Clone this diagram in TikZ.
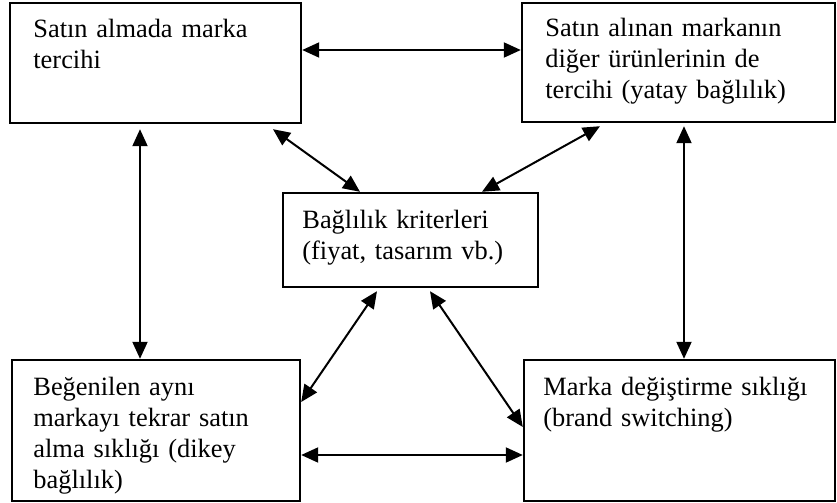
\documentclass[tikz,border=0pt]{standalone}
\usepackage{fontspec}
\setmainfont{Liberation Serif}
\usetikzlibrary{arrows.meta,fit}
\begin{document}
\begin{tikzpicture}[x=0.5pt,y=-0.5pt,
  boxnode/.style={draw=black,line width=1.2pt,inner sep=0pt},
  txt/.style={anchor=base west,inner sep=0pt,text width=160pt,align=left,
              font=\fontsize{13.2}{15.5}\selectfont},
  arr/.style={line width=1pt,{Triangle[length=8.5pt,width=7.5pt]}-{Triangle[length=8.5pt,width=7.5pt]}}]
\useasboundingbox (0,0) rectangle (837,503);
% boxes
\node[boxnode,fit={(10,3) (301,123)}] (tl) {};
\node[boxnode,fit={(522,3) (835,122)}] (tr) {};
\node[boxnode,fit={(283,193) (538,287)}] (c) {};
\node[boxnode,fit={(12,360) (300,501)}] (bl) {};
\node[boxnode,fit={(524,360) (835,501)}] (br) {};
% texts
\node[txt] (ttl) at (33,38) {Satın almada marka\\tercihi};
\node[txt] (ttr) at (545,37) {Satın alınan markanın\\diğer ürünlerinin de\\tercihi (yatay bağlılık)};
\node[txt] (tc) at (302,228) {Bağlılık kriterleri\\(fiyat, tasarım vb.)};
\node[txt] (tbl) at (33,395) {Beğenilen aynı\\markayı tekrar satın\\alma sıklığı (dikey\\bağlılık)};
\node[txt] (tbr) at (543,395) {Marka değiştirme sıklığı\\(brand switching)};
% helper coordinates
\coordinate (h1) at (0,50);
\coordinate (h2) at (0,455);
\coordinate (v1) at (140,0);
\coordinate (v2) at (684,0);
\coordinate (d1) at (273,0);
\coordinate (d2) at (360,0);
\coordinate (d3) at (600,0);
\coordinate (d4) at (482,0);
\coordinate (d5) at (377,0);
\coordinate (d6) at (0,402);
\coordinate (d7) at (430,0);
\coordinate (d8) at (0,427);
% connectors
\draw[arr] (tl.east |- h1) -- (tr.west |- h1);
\draw[arr] (bl.east |- h2) -- (br.west |- h2);
\draw[arr] ([yshift=-2.5pt]tl.south -| v1) -- (bl.north -| v1);
\draw[arr] ([yshift=-1.5pt]tr.south -| v2) -- (br.north -| v2);
\draw[arr] ([yshift=-2.5pt]tl.south -| d1) -- (c.north -| d2);
\draw[arr] ([yshift=-1.5pt]tr.south -| d3) -- (c.north -| d4);
\draw[arr] ([yshift=-1.5pt]c.south -| d5) -- (bl.east |- d6);
\draw[arr] ([yshift=-1.5pt]c.south -| d7) -- (br.west |- d8);
\end{tikzpicture}
\end{document}
